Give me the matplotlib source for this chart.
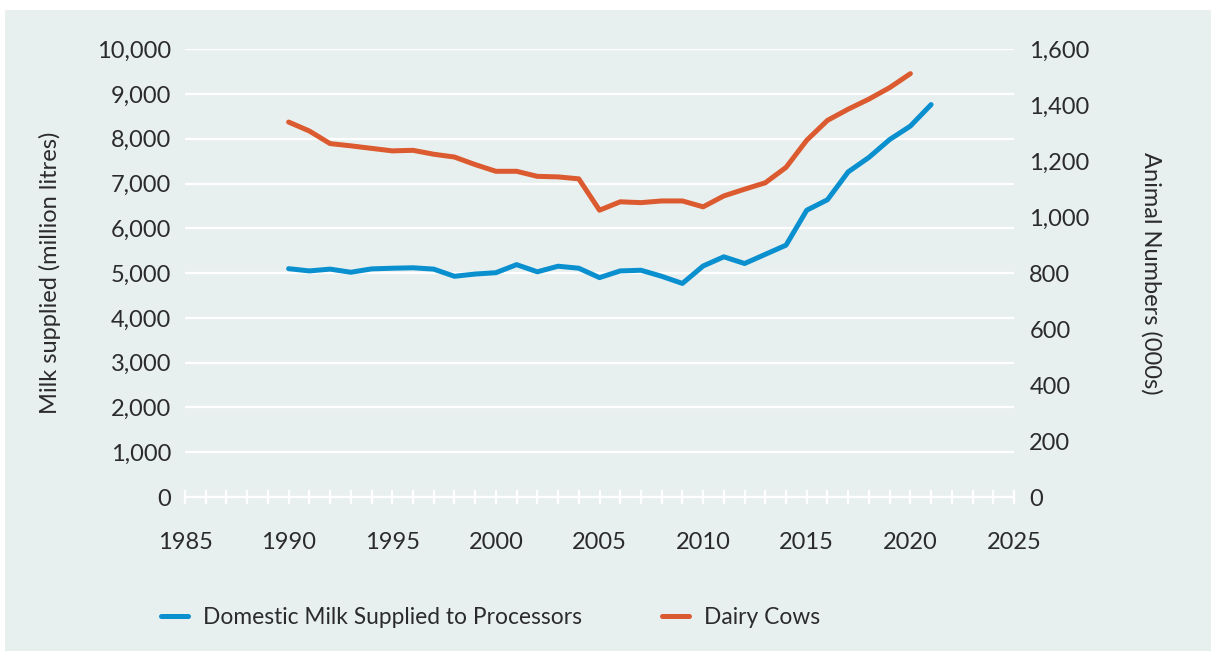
import matplotlib
matplotlib.use("Agg")
import matplotlib.pyplot as plt
from matplotlib.patches import Rectangle
from matplotlib.ticker import FuncFormatter, MultipleLocator

plt.rcParams['font.family'] = ['Lato', 'DejaVu Sans']

years = list(range(1990, 2022))
milk = [5100, 5050, 5090, 5020, 5095, 5110, 5120, 5090, 4930, 4980,
        5010, 5190, 5030, 5155, 5110, 4900, 5050, 5065, 4930, 4770,
        5160, 5365, 5215, 5420, 5625, 6406, 6640, 7262, 7585, 7984,
        8285, 8765]
cow_years = list(range(1990, 2021))
cows = [1340, 1308, 1263, 1255, 1246, 1237, 1239, 1225, 1215, 1188,
        1164, 1164, 1146, 1144, 1137, 1025, 1055, 1052, 1058, 1058,
        1037, 1076, 1100, 1123, 1178, 1275, 1346, 1386, 1422, 1463,
        1513]

BG = '#E8F0EF'
BLUE = '#0A8FCF'
RED = '#DC5A30'
TXT = '#2B2B2B'
FS = 17
LFS = 16.4

W, H = 1211, 651
fig = plt.figure(figsize=(W / 100, H / 100), dpi=100, facecolor='white')
bgrect = Rectangle((5 / W, 0), 1 - 5 / W, 1 - 10 / H, transform=fig.transFigure,
                   facecolor=BG, edgecolor='none', zorder=-10)
fig.add_artist(bgrect)

ax = fig.add_axes([185 / W, 1 - 497 / H, (1014 - 185) / W, (497 - 49.3) / H])
ax.set_facecolor('none')
ax2 = ax.twinx()
ax2.set_facecolor('none')

l1, = ax.plot(years, milk, color=BLUE, lw=3.6, solid_capstyle='round', solid_joinstyle='round', zorder=3)
l2, = ax2.plot(cow_years, cows, color=RED, lw=3.6, solid_capstyle='round', solid_joinstyle='round', zorder=3)

ax.set_xlim(1985, 2025)
ax.set_ylim(0, 10000)
ax2.set_ylim(0, 1600)
ax.yaxis.set_major_locator(MultipleLocator(1000))
ax2.yaxis.set_major_locator(MultipleLocator(200))
fmt = FuncFormatter(lambda v, p: f'{int(v):,}')
ax.yaxis.set_major_formatter(fmt)
ax2.yaxis.set_major_formatter(fmt)
ax.xaxis.set_major_locator(MultipleLocator(5))
ax.xaxis.set_minor_locator(MultipleLocator(1))

ax.grid(axis='y', color='white', lw=1.6, zorder=1)
ax.set_axisbelow(True)
for a in (ax, ax2):
    for s in ('top', 'left', 'right', 'bottom'):
        a.spines[s].set_visible(False)
ax.spines['bottom'].set_visible(True)
ax.spines['bottom'].set_color('white')
ax.spines['bottom'].set_linewidth(1.6)

ax.tick_params(axis='x', which='both', direction='inout', length=10, width=1.6, color='white',
               labelsize=FS, labelcolor=TXT, pad=20)
ax.tick_params(axis='y', length=0, labelsize=FS, labelcolor=TXT, pad=10)
ax2.tick_params(axis='y', length=0, labelsize=FS, labelcolor=TXT, pad=11)

ax.set_ylabel('Milk supplied (million litres)', fontsize=FS, color=TXT, labelpad=26)
ax2.set_ylabel('Animal Numbers (000s)', fontsize=FS, color=TXT, rotation=270, labelpad=52)

leg = fig.legend([l1, l2], ['Domestic Milk Supplied to Processors', 'Dairy Cows'],
                 loc='center left', bbox_to_anchor=(161 / W, 1 - 617 / H), ncol=2,
                 frameon=False, handlelength=1.18, handletextpad=0.66,
                 columnspacing=3.5, borderpad=0, borderaxespad=0, labelcolor=TXT,
                 prop={'size': LFS})

fig.savefig('out.png', dpi=100, facecolor='white')
